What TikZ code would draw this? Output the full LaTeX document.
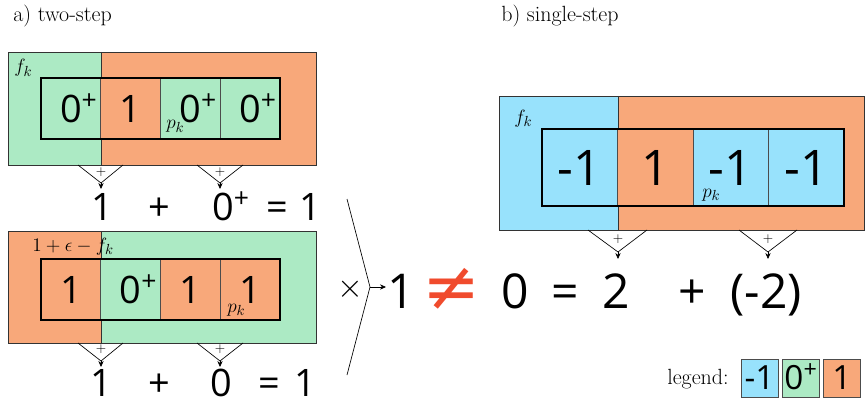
\documentclass[tikz,border=0pt]{standalone}
\usepackage{fontspec}
\setsansfont{Open Sans}
\newfontfamily\dejavu{DejaVu Sans}
\usetikzlibrary{arrows.meta}
\definecolor{cgreen}{RGB}{172,234,196}
\definecolor{corange}{RGB}{248,168,122}
\definecolor{cblue}{RGB}{152,226,252}
\definecolor{cneq}{RGB}{240,75,45}
\begin{document}
\begin{tikzpicture}[x=0.75pt,y=-0.75pt,
  every node/.style={inner sep=0pt},
  cellL/.style={draw=black!70, line width=0.6pt, minimum width=44.8pt, minimum height=45.75pt,
    font=\fontsize{28.4}{30}\selectfont\sffamily, text height=20.3pt, text depth=0pt},
  cellR/.style={draw=black!70, line width=0.6pt, minimum width=56.6pt, minimum height=57.75pt,
    font=\fontsize{36.8}{40}\selectfont\sffamily, text height=26.3pt, text depth=0pt},
  legbox/.style={draw=black!70, line width=0.6pt, minimum width=27.75pt, minimum height=28.5pt,
    font=\fontsize{25}{27}\selectfont\sffamily, text height=17.9pt, text depth=0pt},
  eqL/.style={anchor=base, font=\fontsize{28.4}{30}\selectfont\sffamily},
  eqR/.style={anchor=base, font=\fontsize{36}{40}\selectfont\sffamily},
  lab/.style={anchor=base west, font=\fontsize{15.5}{17}\selectfont},
  titletext/.style={anchor=base west, font=\fontsize{16.5}{19}\selectfont},
  vline/.style={line width=0.5pt},
  varrow/.style={line width=0.5pt, -{Stealth[length=4.5pt,width=4pt]}},
  plussign/.style={font=\fontsize{10}{11}\selectfont},
  outerbox/.style={draw=black!80, line width=0.6pt},
  innerbox/.style={draw=black, line width=1.6pt},
]
\useasboundingbox (0,0) rectangle (865,403);

% titles
\node[titletext] (ta) at (13,22) {a) two-step};
\node[titletext] (tb) at (501,22) {b) single-step};

% ---------- panel a, top ----------
\fill[cgreen] (8,52) rectangle (101,165);
\fill[corange] (101,52) rectangle (316,165);
\draw[outerbox] (8,52) rectangle (316,165);
\draw[outerbox] (101,52) -- (101,165);
\node[cellL, fill=cgreen]  (a1) at (70.9,108.5) {0\rlap{\textsuperscript{+}}};
\node[cellL, fill=corange] (a2) at (130.6,108.5) {1};
\node[cellL, fill=cgreen]  (a3) at (190.4,108.5) {0\rlap{\textsuperscript{+}}};
\node[cellL, fill=cgreen]  (a4) at (250.1,108.5) {0\rlap{\textsuperscript{+}}};
\draw[innerbox] (a1.north west) rectangle (a4.south east);
\node[lab] (fa) at (14,73) {$f_k$};
\node[lab] (pa) at (166,129) {$p_k$};

\coordinate (va1l) at (78,165); \coordinate (va1r) at (123,165); \coordinate (va1) at (101,183); \coordinate (ea1) at (101,189);
\coordinate (va2l) at (197,165); \coordinate (va2r) at (243,165); \coordinate (va2) at (220,183); \coordinate (ea2) at (220,189);
\draw[vline] (va1l) -- (va1) -- (va1r);
\draw[vline] (va2l) -- (va2) -- (va2r);
\draw[varrow] (va1) -- (ea1);
\draw[varrow] (va2) -- (ea2);
\node[plussign] (pa1) at (101,172) {$+$};
\node[plussign] (pa2) at (220,172) {$+$};

\node[eqL] (qa1) at (102,220) {1};
\node[eqL] (qa2) at (159,220) {+};
\node[eqL] (qa3) at (223,220) {0\rlap{\textsuperscript{+}}};
\node[eqL] (qa4) at (277,220) {=};
\node[eqL] (qa5) at (310,220) {1};

% ---------- panel a, bottom ----------
\fill[corange] (8,231) rectangle (101,343);
\fill[cgreen] (101,231) rectangle (316,343);
\draw[outerbox] (8,231) rectangle (316,343);
\draw[outerbox] (101,231) -- (101,343);
\node[cellL, fill=corange] (b1) at (70.9,289.5) {1};
\node[cellL, fill=cgreen]  (b2) at (130.6,289.5) {0\rlap{\textsuperscript{+}}};
\node[cellL, fill=corange] (b3) at (190.4,289.5) {1};
\node[cellL, fill=corange] (b4) at (250.1,289.5) {1};
\draw[innerbox] (b1.north west) rectangle (b4.south east);
\node[lab] (fb) at (32,251) {$1+\epsilon-f_k$};
\node[lab] (pb) at (227,312) {$p_k$};

\coordinate (vb1l) at (78,343); \coordinate (vb1r) at (123,343); \coordinate (vb1) at (101,361); \coordinate (eb1) at (101,367);
\coordinate (vb2l) at (197,343); \coordinate (vb2r) at (243,343); \coordinate (vb2) at (220,361); \coordinate (eb2) at (220,367);
\draw[vline] (vb1l) -- (vb1) -- (vb1r);
\draw[vline] (vb2l) -- (vb2) -- (vb2r);
\draw[varrow] (vb1) -- (eb1);
\draw[varrow] (vb2) -- (eb2);
\node[plussign] (pb1) at (101,349) {$+$};
\node[plussign] (pb2) at (220,349) {$+$};

\node[eqL] (qb1) at (101,396) {1};
\node[eqL] (qb2) at (159,396) {+};
\node[eqL] (qb3) at (221,396) {0};
\node[eqL] (qb4) at (269,396) {=};
\node[eqL] (qb5) at (305,396) {1};

% ---------- bracket ----------
\coordinate (bt) at (347,199); \coordinate (bm) at (370,287); \coordinate (bb) at (347,375);
\coordinate (be) at (386,287);
\draw[vline] (bt) -- (bm) -- (bb);
\draw[varrow] (bm) -- (be);
\node[font=\fontsize{30}{32}\selectfont] (times) at (350,289) {$\times$};

% ---------- panel b ----------
\fill[cblue] (499,96) rectangle (618,230);
\fill[corange] (618,96) rectangle (864,230);
\draw[outerbox] (499,96) rectangle (864,230);
\draw[outerbox] (618,96) -- (618,230);
\node[cellR, fill=cblue]   (c1) at (579.75,167.5) {-1};
\node[cellR, fill=corange] (c2) at (655.25,167.5) {1};
\node[cellR, fill=cblue]   (c3) at (730.75,167.5) {-1};
\node[cellR, fill=cblue]   (c4) at (806.25,167.5) {-1};
\draw[innerbox] (c1.north west) rectangle (c4.south east);
\node[lab] (fc) at (514,123) {$f_k$};
\node[lab] (pc) at (702,197) {$p_k$};

\coordinate (vc1l) at (588,230); \coordinate (vc1r) at (647,230); \coordinate (vc1) at (618,252); \coordinate (ec1) at (618,259);
\coordinate (vc2l) at (739,230); \coordinate (vc2r) at (797,230); \coordinate (vc2) at (768,252); \coordinate (ec2) at (768,259);
\draw[vline] (vc1l) -- (vc1) -- (vc1r);
\draw[vline] (vc2l) -- (vc2) -- (vc2r);
\draw[varrow] (vc1) -- (ec1);
\draw[varrow] (vc2) -- (ec2);
\node[plussign] (pc1) at (618,239) {$+$};
\node[plussign] (pc2) at (768,239) {$+$};

% ---------- main equation ----------
\node[eqR] (r1) at (401,308) {1};
\node[anchor=base, text=cneq, font=\fontsize{52}{56}\selectfont\dejavu] (rneq) at (452,310) {≠};
\node[eqR] (r2) at (515,308) {0};
\node[eqR] (r3) at (565,308) {=};
\node[eqR] (r4) at (616,308) {2};
\node[eqR] (r5) at (692,308) {+};
\node[eqR] (r6) at (766,308) {(-2)};

% ---------- legend ----------
\node[titletext] (leg) at (667,384) {legend:};
\node[legbox, fill=cblue]   (l1) at (759.5,378) {-1};
\node[legbox, fill=cgreen]  (l2) at (801,378) {0\textsuperscript{+}};
\node[legbox, fill=corange] (l3) at (842,378) {1};
\end{tikzpicture}
\end{document}
